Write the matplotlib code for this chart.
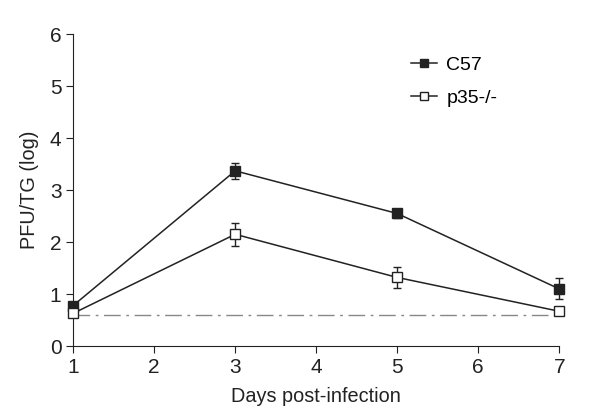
import numpy as np
import matplotlib.pyplot as plt
from matplotlib.lines import Line2D

plt.rcParams['font.family'] = ['Liberation Sans', 'DejaVu Sans']

days = [1, 3, 5, 7]
c57 = [0.78, 3.37, 2.55, 1.10]
c57_err = [0.05, 0.16, 0.08, 0.20]
p35 = [0.63, 2.15, 1.32, 0.67]
p35_err = [0.04, 0.22, 0.21, 0.06]
detection_limit = 0.6

fig = plt.figure(figsize=(6, 4.15), dpi=100)
ax = fig.add_axes([0.122, 0.166, 0.810, 0.752])

ax.axhline(detection_limit, color='#888888', lw=1, linestyle=(0, (12, 4, 2, 4)), zorder=1)

ax.errorbar(days, c57, yerr=c57_err, color='#222222', lw=1.1, marker='s', ms=6.5,
            mfc='#222222', mec='#222222', capsize=3, elinewidth=1, zorder=3, clip_on=False)
ax.errorbar(days, p35, yerr=p35_err, color='#222222', lw=1.1, marker='s', ms=6.5,
            mfc='white', mec='#222222', capsize=3, elinewidth=1, zorder=3, clip_on=False)

ax.set_xlim(1, 7)
ax.set_ylim(0, 6)
ax.set_xticks(range(1, 8))
ax.set_yticks(range(0, 7))
ax.spines['top'].set_visible(False)
ax.spines['right'].set_visible(False)
ax.tick_params(direction='out', labelsize=15, length=5, colors='#222222')
for sp in ax.spines.values():
    sp.set_color('#222222')

ax.set_xlabel('Days post-infection', fontsize=14.3, color='#222222', labelpad=7)
ax.set_ylabel('PFU/TG (log)', fontsize=14.3, color='#222222', labelpad=8)

handles = [
    Line2D([], [], color='#222222', lw=1.1, marker='s', ms=6, mfc='#222222', mec='#222222'),
    Line2D([], [], color='#222222', lw=1.1, marker='s', ms=6, mfc='white', mec='#222222'),
]
ax.legend(handles, ['C57', 'p35-/-'], loc='upper left', bbox_to_anchor=(0.66, 0.985),
          frameon=False, fontsize=14, handlelength=1.3, handletextpad=0.5, labelspacing=0.8)

fig.savefig('out.png', dpi=100)
